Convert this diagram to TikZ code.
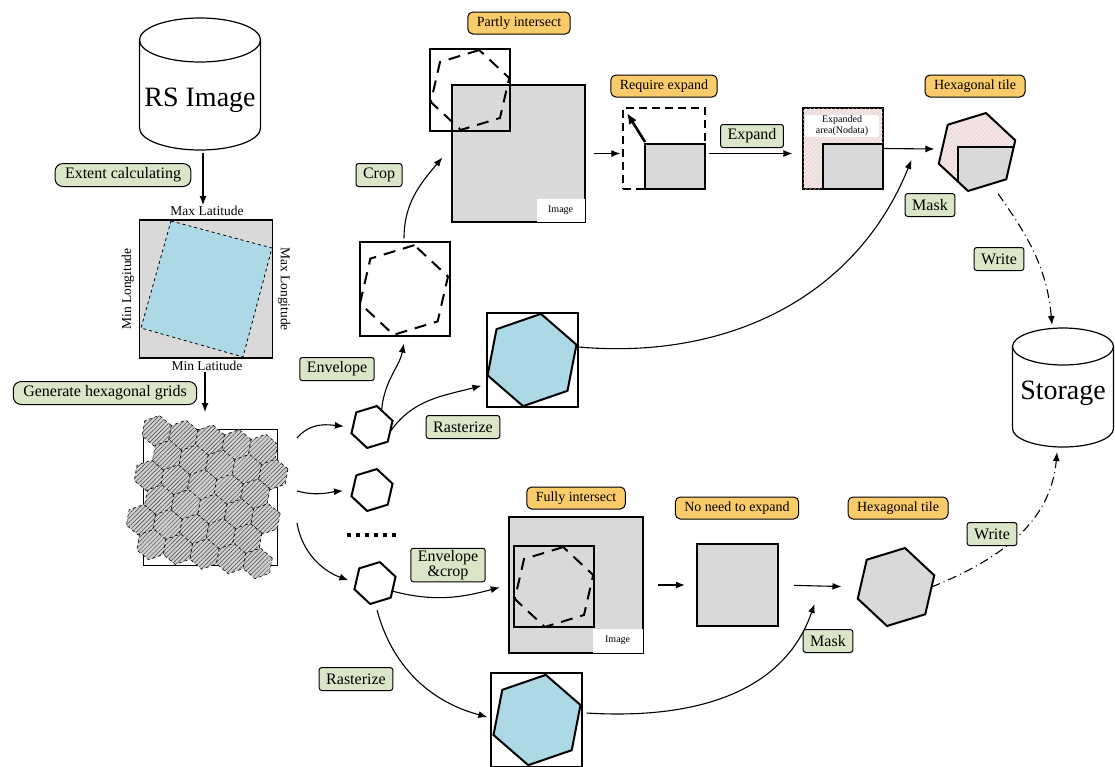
\documentclass[tikz,border=0pt]{standalone}
\usepackage{fontspec}
\setmainfont{Liberation Serif}
\usetikzlibrary{shapes.geometric, arrows.meta, patterns, patterns.meta, calc, positioning}
\definecolor{labgreen}{RGB}{218,230,199}
\definecolor{laborange}{RGB}{250,203,106}
\definecolor{imggray}{RGB}{217,217,217}
\definecolor{rastblue}{RGB}{173,216,230}
\definecolor{nodatapink}{RGB}{244,230,230}
\definecolor{nodataline}{RGB}{228,200,200}
\tikzset{
    greenlab/.style={draw, line width=1pt, fill=labgreen, rounded corners=2.5pt, font=\fontsize{16}{18}\selectfont, inner xsep=7pt, inner ysep=0pt, minimum height=23pt},
    greenround/.style={greenlab, rounded corners=8pt, inner xsep=10pt},
    orangelab/.style={draw, line width=1pt, fill=laborange, rounded corners=5pt, font=\fontsize{14}{16}\selectfont, inner xsep=9pt, inner ysep=0pt, minimum height=22pt},
    axislab/.style={font=\fontsize{13.5}{15}\selectfont, inner sep=1pt},
    smalltext/.style={font=\fontsize{10}{11}\selectfont, inner sep=0pt},
    hexshape/.style={regular polygon, regular polygon sides=6, shape border rotate=17, inner sep=0pt, outer sep=0pt},
    hexsmall/.style={hexshape, draw, line width=2pt, fill=white, minimum size=43pt},
    dashhex/.style={hexshape, draw, line width=2pt, dash pattern=on 12pt off 8pt},
    rasthex/.style={hexshape, shape border rotate=19, draw, line width=2pt, fill=rastblue},
    hexcell/.style={draw, dashed, line width=0.6pt, preaction={fill=gray!38}, pattern={Lines[angle=45, distance=3pt, line width=0.5pt]}, pattern color=gray!55!black},
    nodatafill/.style={fill=nodatapink, postaction={pattern={Lines[angle=45, distance=3pt, line width=0.4pt]}, pattern color=nodataline}},
    envbox/.style={draw, line width=1.3pt, inner sep=0pt},
    imgbox/.style={draw, line width=1.3pt, fill=imggray, inner sep=0pt},
    arr/.style={-{Latex[length=9pt,width=7pt]}, line width=1.1pt},
    writearr/.style={arr, dash pattern=on 9pt off 4pt on 1pt off 4pt},
}
\begin{document}
\begin{tikzpicture}[x=1pt, y=1pt]
\useasboundingbox (0,0) rectangle (1115,-766);

% RS image cylinder
\draw[line width=1.2pt, fill=white] (139.5,-40) -- (139.5,-128) arc[start angle=180, end angle=360, x radius=60.5, y radius=22] -- (260.5,-40);
\draw[line width=1.2pt] (200,-40) ellipse[x radius=60.5, y radius=22];
\node[font=\fontsize{28}{30}\selectfont] (rs) at (200,-100) {RS Image};
\coordinate (rsbot) at (203,-153);

% extent of the image
\node[draw, line width=1.5pt, fill=imggray, minimum width=133pt, minimum height=138pt] (extent) at (206,-289) {};
\draw[dashed, line width=0.8pt, fill=rastblue] (171,-221) -- (272,-248) -- (243,-357) -- (141,-328) -- cycle;
\node[axislab] (maxlat) at (207,-211) {Max Latitude};
\node[axislab] (minlat) at (207,-366) {Min Latitude};
\node[axislab, rotate=90] (minlon) at (128,-289) {Min Longitude};
\node[axislab, rotate=-90] (maxlon) at (284,-289) {Max Longitude};
\node[greenround] (extcalc) at (123,-175) {Extent calculating};
\draw[arr] (rsbot) -- (rsbot |- maxlat.north);

% hexagonal grid
\draw[line width=0.8pt] (143,-429) rectangle (277,-565);
\begin{scope}[shift={(210,-497)}, rotate=-10]
    \foreach \k in {0,...,5}
        \foreach \i in {0,...,4}
            \draw[hexcell, shift={({-64+27*\i+14.5*mod(\k,2)},{56-22.6*\k})}] (30:15.5) -- (90:15.5) -- (150:15.5) -- (210:15.5) -- (270:15.5) -- (330:15.5) -- cycle;
\end{scope}
\coordinate (gridtop) at (205,-412);
\node[greenround] (gengrid) at (105,-393) {Generate hexagonal grids};
\draw[arr] (minlat.south -| gridtop) -- (gridtop);

% single hexagons
\node[hexsmall] (hexa) at (372,-427) {};
\node[hexsmall] (hexb) at (372,-490) {};
\node[hexsmall] (hexc) at (375,-583) {};
\draw[line width=4pt, dash pattern=on 4pt off 5pt] (347,-535) -- (399,-535);
\coordinate (g1) at (297,-438);
\coordinate (g2) at (297,-491);
\coordinate (g3) at (297,-523);
\draw[arr, shorten >=9pt] (g1) to[out=50, in=175] (hexa.west);
\draw[arr, shorten >=10pt] (g2) to[out=-15, in=185] (hexb.west);
\draw[arr, shorten >=8pt] (g3) to[out=-80, in=160] (hexc.west);

% partly intersect branch
\node[envbox, minimum width=90pt, minimum height=94pt] (envtop) at (405,-289) {};
\node[dashhex, minimum size=92pt] (envtophex) at (404,-290) {};
\node[greenlab] (envlab) at (337,-369) {Envelope};
\draw[arr, shorten >=7pt] (hexa.60) to[out=85, in=-100] (envtop.south);
\node[imgbox, minimum width=133pt, minimum height=137pt] (imgtop) at (518.5,-153.5) {};
\node[fill=white, smalltext, anchor=south east, minimum width=48pt, minimum height=23pt] (imgtoplab) at ($(imgtop.south east)+(-0.8,0.8)$) {Image};
\node[envbox, minimum width=80pt, minimum height=82pt] (cropbox) at (470,-90) {};
\node[dashhex, minimum size=82pt] (crophex) at (470,-90) {};
\node[orangelab] (partly) at (519,-23) {Partly intersect};
\node[greenlab] (croplab) at (379,-175) {Crop};
\draw[arr] (envtop.north) ++(-1,3) to[out=90, in=-130] ($(imgtop.west)+(-9,-4)$);

% expand
\node[draw, dashed, line width=1.3pt, dash pattern=on 8pt off 5pt, minimum width=82pt, minimum height=81pt, inner sep=0pt] (reqbox) at (664,-148.5) {};
\draw[line width=1.3pt, fill=imggray] (645,-144) rectangle (705,-189);
\draw[-{Latex[length=11pt,width=9pt]}, line width=2.6pt] (645,-142) -- (627,-113);
\node[orangelab] (reqlab) at (664,-86) {Require expand};
\draw[arr] ($(imgtop.east)+(8,0)$) -- ($(reqbox.west)+(-2,-5)$);
\node[draw, line width=1.3pt, nodatafill, minimum width=80pt, minimum height=81pt, inner sep=0pt] (expbox) at (843,-148.5) {};
\draw[line width=1.3pt, fill=imggray] (823,-144) rectangle (883,-189);
\node[fill=white, rounded corners=2pt, smalltext, align=center, minimum width=74pt, minimum height=22pt] (nodatalab) at (842,-126) {Expanded\\area(Nodata)};
\draw[arr] ($(reqbox.east)+(3,-5)$) -- ($(expbox.west)+(-10,-5)$);
\node[greenlab] (explab) at (752,-136) {Expand};

% hexagonal tile (top)
\node[hexshape, minimum size=80pt, nodatafill] (tiletop) at (977,-152) {};
\begin{scope}
    \clip (tiletop.corner 1) -- (tiletop.corner 2) -- (tiletop.corner 3) -- (tiletop.corner 4) -- (tiletop.corner 5) -- (tiletop.corner 6) -- cycle;
    \draw[line width=1.3pt, fill=imggray] (958,-147) rectangle (1030,-215);
\end{scope}
\draw[line width=2pt, line join=round] (tiletop.corner 1) -- (tiletop.corner 2) -- (tiletop.corner 3) -- (tiletop.corner 4) -- (tiletop.corner 5) -- (tiletop.corner 6) -- cycle;
\node[orangelab] (tiletoplab) at (975,-86) {Hexagonal tile};
\draw[arr] (expbox.east) -- ($(tiletop.west)+(-7,3)$);

% rasterize (top)
\node[envbox, minimum width=91pt, minimum height=94pt] (rasttop) at (532.5,-360) {};
\node[rasthex, minimum size=94pt] (rasttophex) at (532,-360) {};
\node[greenlab] (rastlab) at (463,-427) {Rasterize};
\draw[arr] (hexa.-15) to[out=55, in=-165] ($(rasttop.south west)+(-5,22)$);
\draw[arr] ($(rasttop.east)+(0,13)$) to[out=-5, in=-112] ($(tiletop.west)+(-30,-8)$);
\node[greenlab] (masktop) at (930,-205) {Mask};

% storage
\draw[line width=1.2pt, fill=white] (1012.5,-346.5) -- (1012.5,-428.5) arc[start angle=180, end angle=360, x radius=50.5, y radius=18.5] -- (1113.5,-346.5);
\draw[line width=1.2pt] (1063,-346.5) ellipse[x radius=50.5, y radius=18.5];
\node[font=\fontsize{28}{30}\selectfont] (storage) at (1063,-393) {Storage};
\coordinate (stortop) at (1052,-325);
\coordinate (storbot) at (1057,-452);
\draw[writearr, shorten <=12pt] (tiletop.-66) to[out=-55, in=95] (stortop);
\node[greenlab] (writetop) at (999,-259) {Write};

% fully intersect branch
\node[imgbox, minimum width=134pt, minimum height=136pt] (fullimg) at (576,-585) {};
\node[fill=white, smalltext, anchor=south east, minimum width=50pt, minimum height=24pt] (fullimglab) at ($(fullimg.south east)+(-0.8,0.8)$) {Image};
\node[envbox, minimum width=80pt, minimum height=81pt] (fullbox) at (554,-586.5) {};
\node[dashhex, minimum size=82pt] (fullhex) at (554,-587) {};
\node[orangelab] (fulllab) at (576,-498) {Fully intersect};
\node[greenlab, align=center, inner ysep=2pt] (envcrop) at (448,-565) {Envelope\\[-3pt]\&crop};
\draw[arr, shorten >=9pt] (hexc.-25) to[out=-15, in=195] (fullimg.west);

\node[draw, line width=2.2pt, fill=imggray, minimum width=81pt, minimum height=82pt, inner sep=0pt] (noexp) at (737.5,-585) {};
\node[orangelab] (noexplab) at (737,-508) {No need to expand};
\draw[arr, shorten <=14pt, shorten >=11pt] (fullimg.east) -- (noexp.west);

% hexagonal tile (bottom)
\node[hexshape, draw, line width=2pt, fill=imggray, minimum size=80pt] (tilebot) at (896,-587) {};
\node[orangelab] (tilebotlab) at (898,-508) {Hexagonal tile};
\draw[arr, shorten <=15pt, shorten >=19pt] (noexp.east) -- (tilebot.west);

% rasterize (bottom)
\node[envbox, minimum width=91pt, minimum height=94pt] (rastbot) at (536.5,-720) {};
\node[rasthex, minimum size=92pt] (rastbothex) at (537,-720) {};
\node[greenlab] (rastbotlab) at (356,-679) {Rasterize};
\draw[arr, shorten <=8pt] (hexc.south) to[out=-75, in=165] ($(rastbot.west)+(-3,3)$);
\draw[arr] ($(rastbot.east)+(4,7)$) .. controls (700,-720) and (785,-690) .. ($(tilebot.west)+(-46,-17)$);
\node[greenlab] (maskbot) at (828,-641) {Mask};

\draw[writearr] (tilebot.east) to[out=22, in=-95] (storbot);
\node[greenlab] (writebot) at (992,-534) {Write};
\end{tikzpicture}
\end{document}
